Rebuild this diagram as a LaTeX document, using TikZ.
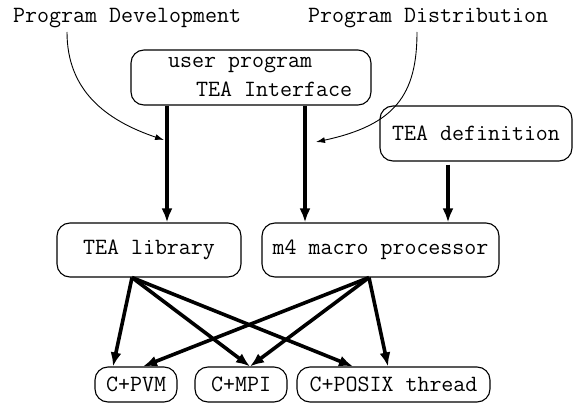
\documentclass[tikz,border=0pt]{standalone}
\usepackage{fontspec}
\usetikzlibrary{arrows.meta,calc}
\begin{document}
\begin{tikzpicture}[x=1pt,y=-1pt,
  every node/.style={font=\fontsize{23.3}{28}\ttfamily},
  txt/.style={inner sep=0pt},
  box/.style={draw, rounded corners=13pt, line width=1.1pt, inner sep=0pt},
  bigarrow/.style={line width=3.6pt, -{Latex[length=14pt,width=11pt]}},
  thinarrow/.style={line width=0.9pt, -{Latex[length=9pt,width=6pt]}}]
\useasboundingbox (0,0) rectangle (579,404);
% titles
\node[txt, anchor=base west] (dev) at (13,23) {Program Development};
\node[txt, anchor=base west] (dist) at (308,23) {Program Distribution};
% boxes
\node[box, minimum width=240pt, minimum height=55pt] (user) at (251,77.5) {};
\node[txt, anchor=base west] (ut1) at (168,68) {user program};
\node[txt, anchor=base west] (ut2) at (196,96) {TEA Interface};
\node[box, minimum width=192pt, minimum height=55pt] (def) at (476,133.5) {TEA definition};
\node[box, minimum width=184pt, minimum height=54pt] (lib) at (149,250) {TEA library};
\node[box, minimum width=237pt, minimum height=54pt] (m4) at (380.5,250) {m4 macro processor};
\node[box, minimum width=82pt, minimum height=35pt] (pvm) at (136,384.5) {C+PVM};
\node[box, minimum width=92pt, minimum height=35pt] (mpi) at (241,384.5) {C+MPI};
\node[box, minimum width=193pt, minimum height=35pt] (posix) at (393.5,384.5) {C+POSIX thread};
% vertical arrows
\coordinate (xa) at (167,0);
\coordinate (xb) at (305,0);
\coordinate (xc) at (448,0);
\draw[bigarrow] (user.south -| xa) -- (lib.north -| xa);
\draw[bigarrow] (user.south -| xb) -- (m4.north -| xb);
\draw[bigarrow, shorten <=3pt] (def.south -| xc) -- (m4.north -| xc);
% curved arrows
\coordinate (c1s) at (67,32);
\coordinate (c1e) at (164,140);
\coordinate (c2s) at (417,32);
\coordinate (c2e) at (316,142);
\draw[thinarrow] (c1s) .. controls (67,90) and (105,120) .. (c1e);
\draw[thinarrow] (c2s) .. controls (417,95) and (395,125) .. (c2e);
% diagonal arrows
\coordinate (ls) at ($(lib.south)+(-17,0)$);
\coordinate (ms) at ($(m4.south)+(-11.5,0)$);
\draw[bigarrow] (ls) -- ($(pvm.north)+(-23,0)$);
\draw[bigarrow] (ls) -- ($(mpi.north)+(9,0)$);
\draw[bigarrow] (ls) -- ($(posix.north)+(-40.5,0)$);
\draw[bigarrow] (ms) -- ($(pvm.north)+(7,0)$);
\draw[bigarrow] (ms) -- ($(mpi.north)+(9,0)$);
\draw[bigarrow] (ms) -- ($(posix.north)+(-5.5,0)$);
\end{tikzpicture}
\end{document}
